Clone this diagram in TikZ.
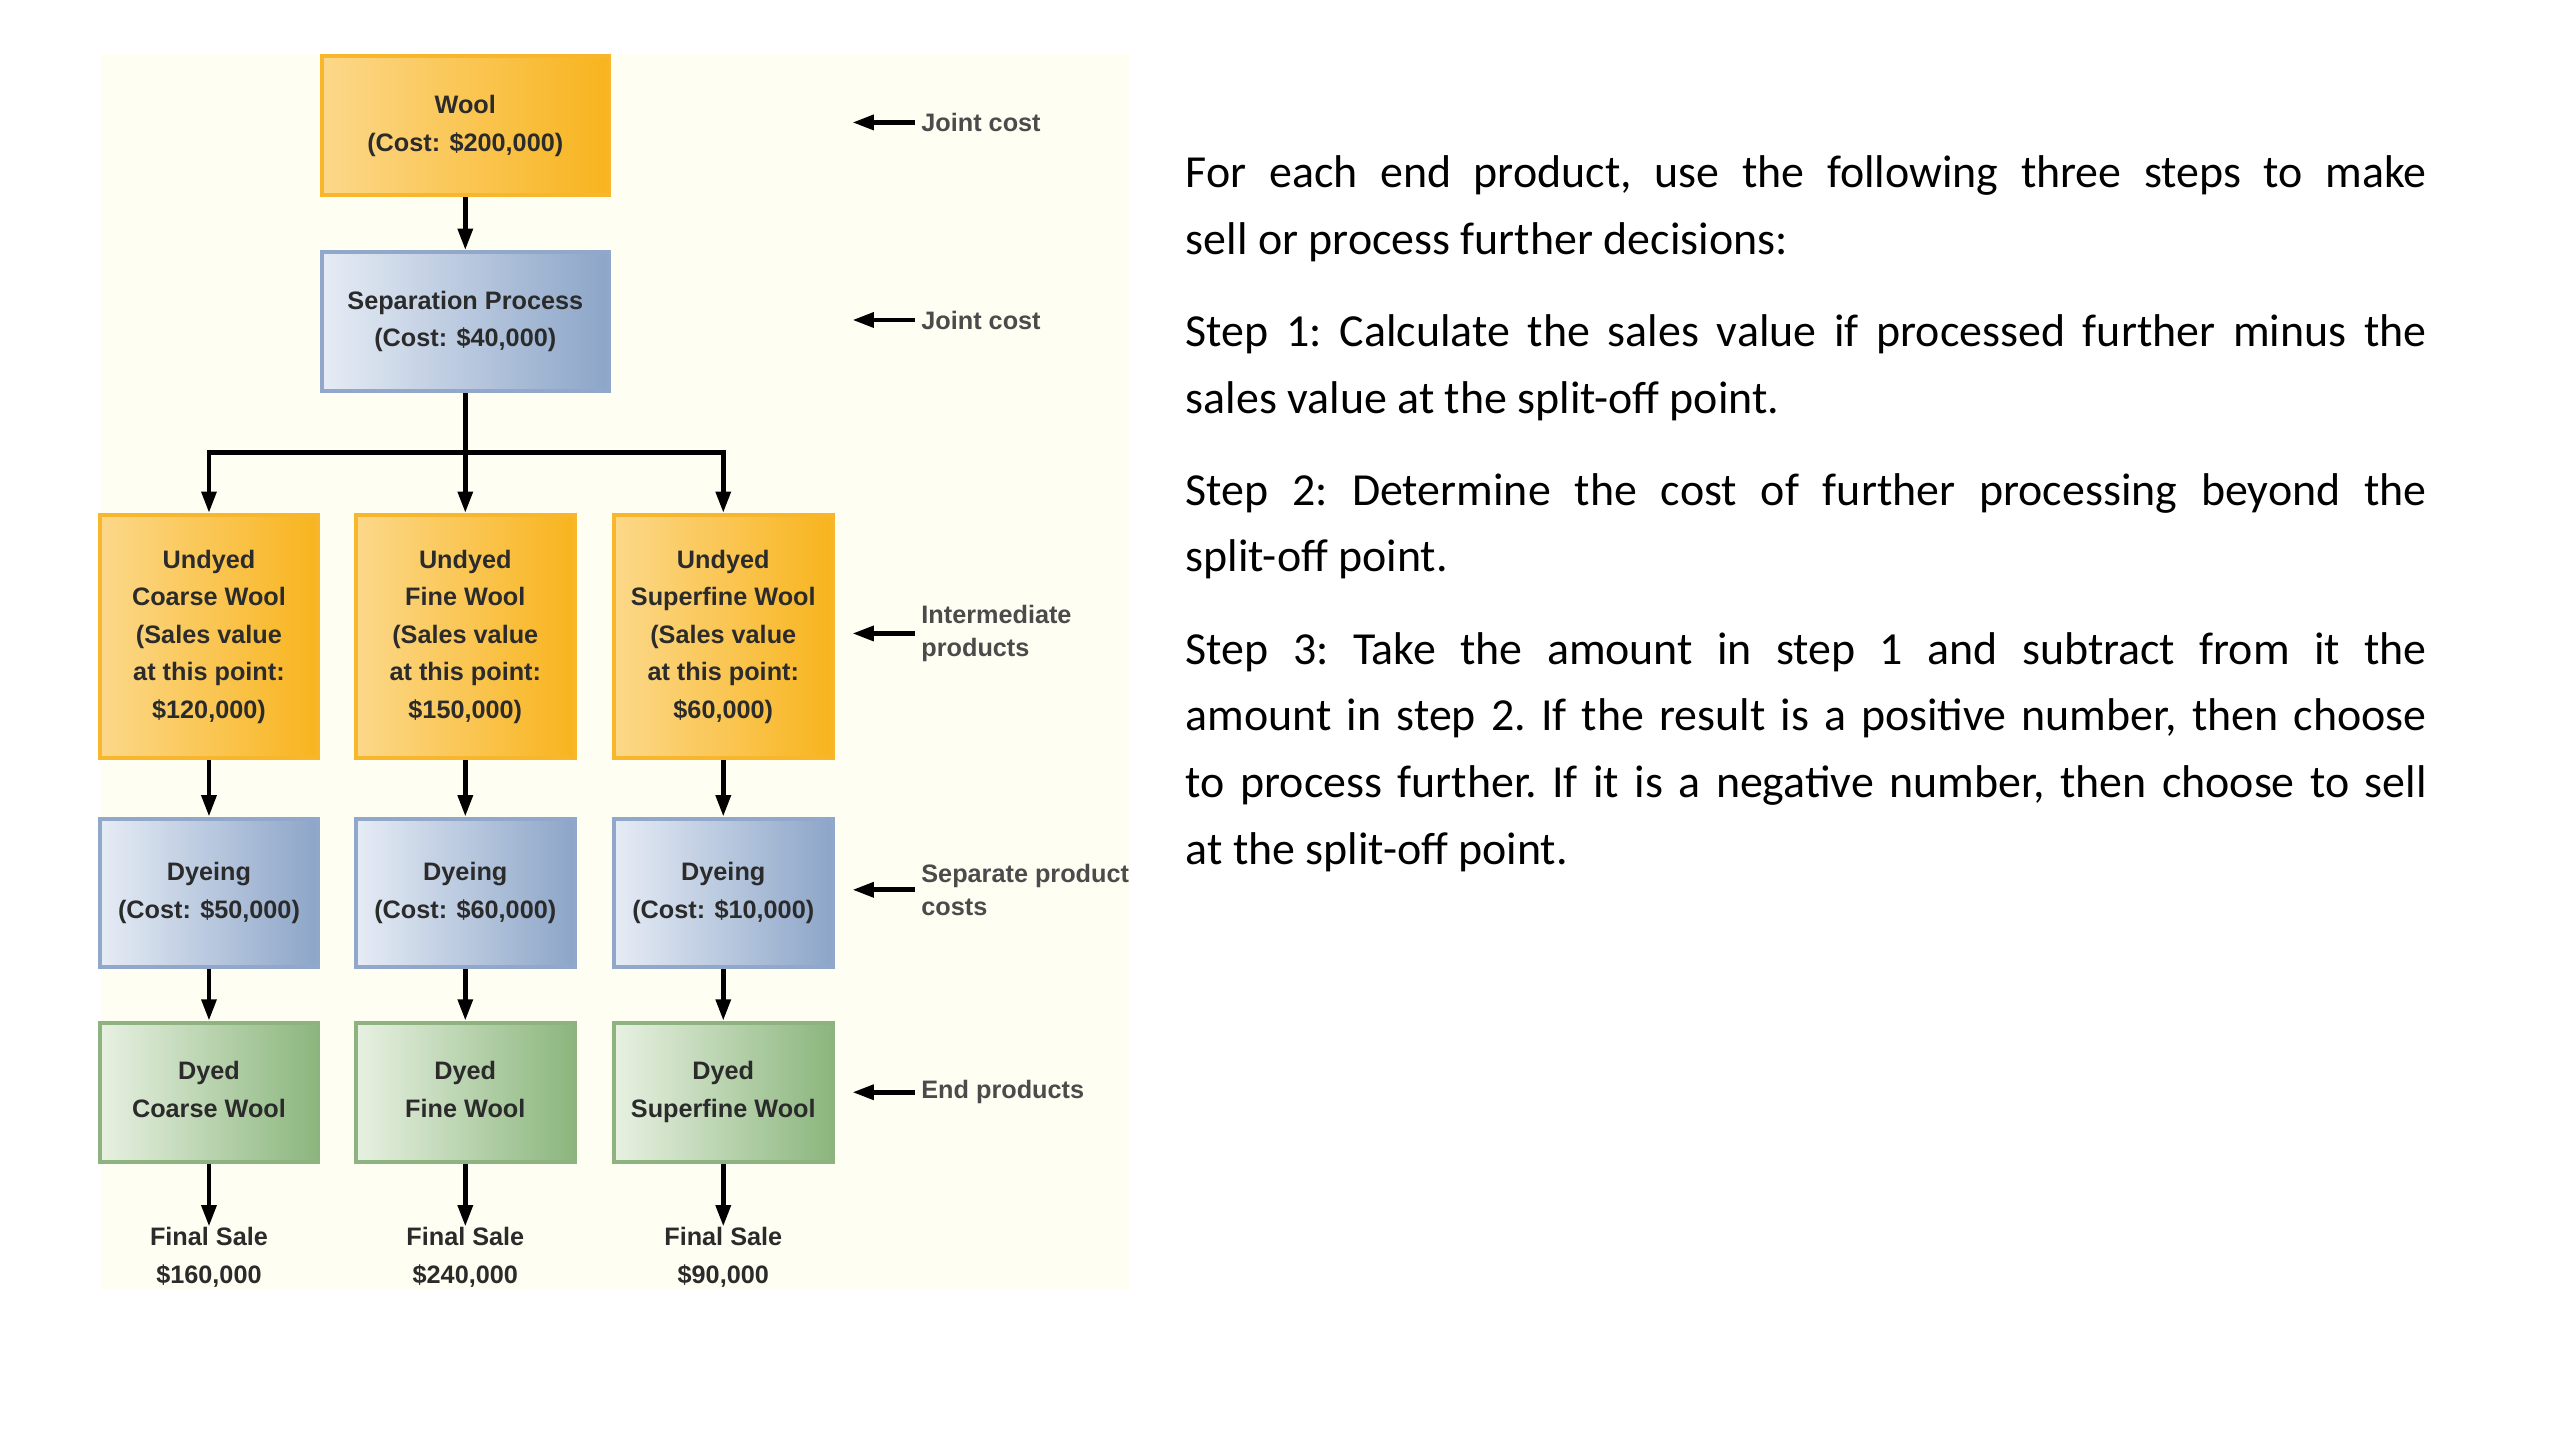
\documentclass[tikz,border=0pt]{standalone}
\usepackage{fontspec}
\setmainfont{Carlito}
\newfontfamily\diagfont{Liberation Sans}
\usetikzlibrary{arrows.meta,positioning}

\definecolor{panel}{HTML}{FEFEF2}
\definecolor{woolL}{HTML}{FCD88A}
\definecolor{woolR}{HTML}{F8B41E}
\definecolor{woolF}{HTML}{F8B62C}
\definecolor{procL}{HTML}{E6ECF5}
\definecolor{procR}{HTML}{8CA5C8}
\definecolor{procF}{HTML}{91A8CB}
\definecolor{dyedL}{HTML}{E8F1E2}
\definecolor{dyedR}{HTML}{8BB67D}
\definecolor{dyedF}{HTML}{8DB480}
\definecolor{ink}{HTML}{2B2B2B}

\tikzset{
  box/.style={draw, line width=1.4pt, align=center, inner sep=0pt, text=ink,
    font=\diagfont\bfseries\fontsize{8.8}{13.1}\selectfont},
  woolbox/.style={box, draw=woolF, left color=woolL, right color=woolR},
  procbox/.style={box, draw=procF, left color=procL, right color=procR},
  dyedbox/.style={box, draw=dyedF, left color=dyedL, right color=dyedR},
  salelabel/.style={align=center, inner sep=0pt, text=ink,
    font=\diagfont\bfseries\fontsize{8.8}{13.1}\selectfont},
  sidelabel/.style={anchor=west, align=left, inner sep=0pt, text=ink!85,
    font=\diagfont\bfseries\fontsize{8.8}{11.4}\selectfont},
  arr/.style={line width=1.7pt, -{Triangle[length=7.5pt,width=5pt]}},
}

\begin{document}
\begin{tikzpicture}[x=0.2mm, y=-0.2mm]
  \fill[white] (0,0) rectangle (1568,882);
  \useasboundingbox (0,0) rectangle (1568,882);
  \fill[panel] (62,33) rectangle (692,790);

  % joint cost stages
  \node[woolbox, minimum width=35.2mm, minimum height=17mm] (wool) at (285,77)
    {Wool\\(Cost: \$200,000)};
  \node[procbox, minimum width=35.2mm, minimum height=17mm] (sep) at (285,197)
    {Separation Process\\(Cost: \$40,000)};
  \coordinate (split) at (285,277);
  \draw[arr] (wool) -- (sep);

  % one column per product
  \foreach \x/\n/\kind/\sale/\dye/\final in {
      128/1/Coarse Wool/{\$120,000}/{\$50,000}/{\$160,000},
      285/2/Fine Wool/{\$150,000}/{\$60,000}/{\$240,000},
      443/3/Superfine Wool/{\$60,000}/{\$10,000}/{\$90,000}} {
    \node[woolbox, minimum width=26.8mm, minimum height=29.8mm] (und\n) at (\x,390)
      {Undyed\\\kind\\(Sales value\\at this point:\\\sale)};
    \node[procbox, minimum width=26.8mm, minimum height=18.2mm] (dye\n) at (\x,547)
      {Dyeing\\(Cost: \dye)};
    \node[dyedbox, minimum width=26.8mm, minimum height=17mm] (dyed\n) at (\x,669)
      {Dyed\\\kind\vphantom{p}};
    \node[salelabel] (sale\n) at (\x,770) {Final Sale\\\final};
    \draw[arr] (und\n) -- (dye\n);
    \draw[arr] (dye\n) -- (dyed\n);
    \draw[arr] (dyed\n) -- (sale\n);
  }

  % split-off point
  \draw[arr] (sep.south) -- (split) -| (und1.north);
  \draw[arr] (sep.south) -- (und2.north);
  \draw[arr] (sep.south) -- (split) -| (und3.north);

  % labels on the right of the chart
  \foreach \y/\n/\txt in {75/1/Joint cost, 196/2/Joint cost,
      388/3/{Intermediate\\products}, 545/4/{Separate product\\costs},
      669/5/End products} {
    \node[sidelabel] (lbl\n) at (564,\y) {\txt};
    \coordinate (tip\n) at (522,\y);
    \draw[arr, shorten <=2pt] (lbl\n.west) -- (tip\n);
  }

  \node[anchor=north west, text width=152mm, inner sep=0pt, align=justify,
    font=\fontsize{16}{23.2}\selectfont] (steps) at (726,95) {%
    \setlength{\parindent}{0pt}\frenchspacing
    For each end product, use the following three steps to make\linebreak
    sell or process further decisions:\par\vspace{9pt}
    Step 1: Calculate the sales value if processed further minus the\linebreak
    sales value at the split-off point.\par\vspace{9pt}
    Step 2: Determine the cost of further processing beyond the\linebreak
    split-off point.\par\vspace{9pt}
    Step 3: Take the amount in step 1 and subtract from it the\linebreak
    amount in step 2. If the result is a positive number, then choose\linebreak
    to process further. If it is a negative number, then choose to sell\linebreak
    at the split-off point.};
\end{tikzpicture}
\end{document}
